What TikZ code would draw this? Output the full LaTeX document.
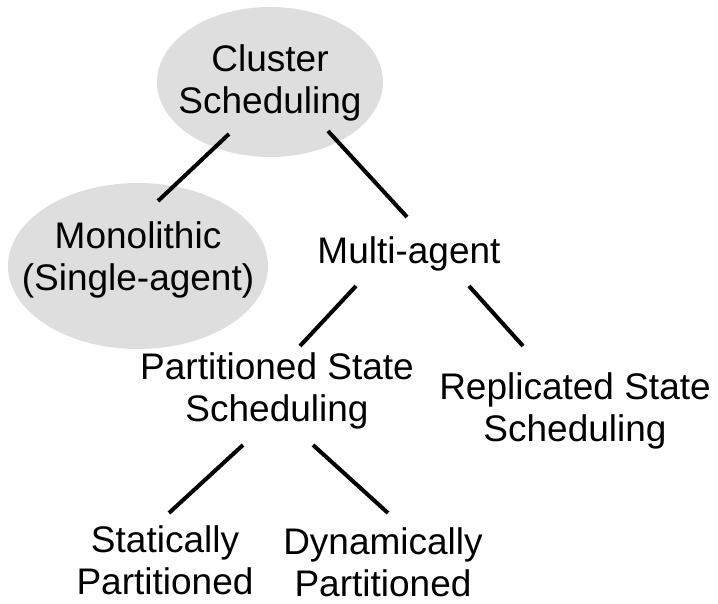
\documentclass[tikz,border=0pt]{standalone}
\usepackage{fontspec}
\setmainfont{Liberation Sans}
\usepackage{tikz}
\usetikzlibrary{backgrounds}
\definecolor{ovalgray}{HTML}{DEDEDE}
\tikzset{
  leaf/.style={align=center, inner sep=0pt, font=\fontsize{18.5}{21}\selectfont},
  branch/.style={line width=2pt}
}
\begin{document}
\begin{tikzpicture}[x=0.5pt,y=-0.5pt]
\useasboundingbox (0,0) rectangle (718,604);
\node [leaf] (cluster) at (270,83) {Cluster\\Scheduling};
\node [leaf] (mono) at (138,260) {Monolithic\\(Single-agent)};
\node [leaf] (multi) at (409,254) {Multi-agent};
\node [leaf] (part) at (277,391) {Partitioned State\\Scheduling};
\node [leaf] (repl) at (575,411) {Replicated State\\Scheduling};
\node [leaf] (static) at (165,560) {Statically\\Partitioned};
\node [leaf] (dynamic) at (383,562) {Dynamically\\Partitioned};
\begin{scope}[on background layer]
\fill [ovalgray] ([shift={(0,-1)}]cluster.center) ellipse [x radius=56.5pt, y radius=37.5pt];
\fill [ovalgray] ([shift={(0,6)}]mono.center) ellipse [x radius=65pt, y radius=41.5pt];
\end{scope}
\draw [branch] ([shift={(-41,51)}]cluster.center) -- ([shift={(20,-59)}]mono.center);
\draw [branch] ([shift={(58,48)}]cluster.center) -- ([shift={(-2,-37)}]multi.center);
\draw [branch] ([shift={(-53,32)}]multi.center) -- ([shift={(23,-45)}]part.center);
\draw [branch] ([shift={(60,32)}]multi.center) -- ([shift={(-52,-65)}]repl.center);
\draw [branch] ([shift={(-34,54)}]part.center) -- ([shift={(4,-47)}]static.center);
\draw [branch] ([shift={(36,54)}]part.center) -- ([shift={(5,-49)}]dynamic.center);
\end{tikzpicture}
\end{document}
